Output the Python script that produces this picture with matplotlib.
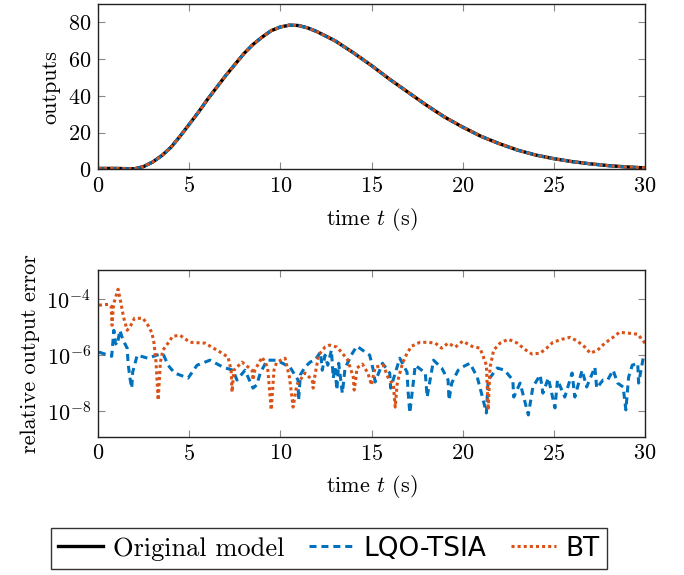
import matplotlib
matplotlib.use("Agg")
import matplotlib.pyplot as plt
import numpy as np

plt.rcParams["font.family"] = "serif"
plt.rcParams["font.serif"] = ["cmr10", "DejaVu Serif"]
plt.rcParams["mathtext.fontset"] = "cm"
plt.rcParams["axes.formatter.use_mathtext"] = True

BLUE = "#0072BD"
ORANGE = "#D95319"

# output of the original model
t_out = [0, 1, 2, 2.5, 3, 3.5, 4, 4.5, 5, 5.5, 6, 6.5, 7, 7.5, 8, 8.5, 9, 9.5,
         10, 10.5, 11, 11.5, 12, 13, 14, 15, 16, 17, 18, 19, 20, 21, 22, 23,
         24, 25, 26, 27, 28, 29, 30]
y_orig = [0.5, 0.5, 0.3, 1.5, 4, 7.5, 12, 18, 24.5, 31, 38, 44.5, 51, 57, 63,
          68, 72, 75.5, 77.5, 78.5, 78.3, 77, 75, 70, 63.5, 56.5, 49, 42, 35,
          28.5, 23, 18, 14, 10.5, 7.8, 5.8, 4.2, 3, 2, 1.3, 0.8]
y_lqo = y_orig   # indistinguishable from the original at this scale
y_bt = y_orig

# relative output errors, stored as log10 values
t_err_lqo = [0.05, 0.55, 0.75, 0.87, 0.95, 1.05, 1.2, 1.37, 1.6, 1.65, 1.75, 1.85,
             1.9, 2.15, 2.74, 3.4, 3.6, 3.84, 4.2, 4.94, 5.43, 6.14, 6.86, 7.4,
             7.62, 8.06, 8.5, 8.7, 8.9, 9.27, 9.8, 10.53, 10.97, 11.0, 11.1,
             11.35, 11.63, 11.9, 12.2, 12.3, 12.45, 12.6, 12.8, 12.9, 13.0, 13.1,
             13.2, 13.4, 13.55, 13.95, 14.2, 14.9, 15.1, 15.2, 15.6, 16.0, 16.05,
             16.55, 16.95, 17.0, 17.1, 17.4, 17.95, 18.05, 18.4, 18.85, 19.2,
             19.25, 19.4, 19.75, 19.97, 20.4, 20.8, 21.1, 21.3, 21.4, 21.9, 22.3,
             22.75, 22.8, 23.15, 23.6, 23.85, 24.25, 24.4, 24.7, 25.06, 25.2,
             25.6, 26.0, 26.15, 26.55, 26.8, 27.25, 27.35, 27.7, 27.95, 28.25,
             28.5, 28.8, 28.95, 29.1, 29.3, 29.6, 29.65, 29.9]
log_err_lqo = [-5.89, -6.0, -6.04, -5.11, -5.57, -5.64, -5.11, -5.46, -5.75, -6.29,
               -6.82, -7.18, -6.61, -6.0, -6.11, -5.96, -6.0, -6.36, -6.64, -6.82,
               -6.36, -6.18, -6.43, -6.54, -6.89, -6.54, -7.18, -7.07, -6.64,
               -6.18, -6.18, -6.43, -6.89, -7.61, -6.7, -6.43, -6.25, -6.18,
               -5.89, -6.54, -6.0, -6.36, -5.82, -6.82, -6.43, -7.25, -6.29,
               -7.36, -6.46, -5.93, -5.68, -6.0, -6.54, -6.96, -6.29, -6.64,
               -7.18, -6.11, -6.61, -7.25, -8.07, -6.36, -6.64, -7.5, -6.18,
               -6.46, -6.89, -7.61, -7.0, -6.54, -6.43, -6.29, -6.79, -7.54,
               -8.07, -6.89, -6.46, -6.54, -6.89, -7.5, -7.0, -8.14, -7.14,
               -6.71, -7.36, -6.82, -7.89, -6.89, -7.5, -6.64, -7.5, -6.54,
               -7.14, -6.43, -7.18, -6.89, -6.89, -6.54, -7.0, -7.14, -7.96,
               -6.79, -6.36, -6.29, -7.0, -6.11]

t_err_bt = [0.05, 0.6, 0.72, 0.77, 0.85, 1.1, 1.25, 1.4, 1.6, 1.8, 2.0, 2.47, 2.74,
            2.96, 3.07, 3.18, 3.3, 3.42, 3.56, 3.84, 4.1, 4.5, 5.05, 5.87, 6.7,
            7.13, 7.3, 7.35, 7.45, 7.9, 8.45, 8.5, 8.6, 9.0, 9.3, 9.5, 9.65, 9.8,
            10.26, 10.5, 10.7, 10.9, 11.35, 11.75, 11.8, 11.9, 12.1, 12.45, 12.7,
            13.1, 13.4, 13.7, 14.0, 14.05, 14.15, 14.2, 14.5, 14.8, 15.0, 15.2,
            15.65, 15.9, 16.2, 16.3, 16.4, 16.45, 16.7, 16.95, 17.2, 17.65, 18.1,
            18.5, 18.85, 19.2, 19.6, 20.0, 20.5, 20.95, 21.1, 21.3, 21.4, 21.5,
            21.7, 22.05, 22.5, 23.0, 23.4, 23.8, 24.25, 24.6, 24.95, 25.45, 25.9,
            26.3, 26.7, 27.0, 27.4, 27.8, 28.25, 28.6, 29.05, 29.6, 30.0]
log_err_bt = [-4.21, -4.18, -4.25, -4.93, -4.18, -3.64, -4.11, -4.64, -5.11, -4.93,
              -4.68, -4.68, -4.93, -5.21, -5.57, -6.25, -7.61, -6.25, -5.82,
              -5.57, -5.32, -5.29, -5.54, -5.57, -5.89, -6.07, -6.54, -7.32,
              -6.54, -6.25, -6.54, -6.89, -6.54, -6.07, -6.43, -7.96, -6.54,
              -6.25, -6.11, -6.79, -7.86, -7.07, -6.64, -6.89, -7.18, -6.71,
              -6.0, -5.71, -5.64, -5.71, -5.93, -6.18, -6.79, -7.25, -6.79,
              -6.46, -6.32, -6.64, -7.07, -6.43, -6.36, -6.79, -7.07, -7.86,
              -7.07, -6.89, -6.29, -5.93, -5.68, -5.54, -5.54, -5.57, -5.75,
              -5.57, -5.71, -5.5, -5.68, -5.75, -6.0, -6.36, -7.96, -6.43, -5.82,
              -5.57, -5.43, -5.57, -5.79, -5.96, -5.93, -5.75, -5.54, -5.43,
              -5.36, -5.5, -5.71, -5.93, -5.82, -5.57, -5.36, -5.18, -5.21,
              -5.25, -5.57]

FS = 16


def style_axes(ax):
    ax.tick_params(direction="in", top=True, right=True, length=5,
                   color="#888888", labelsize=FS, pad=5)
    for s in ax.spines.values():
        s.set_linewidth(1.0)
        s.set_color("#222222")
    ax.set_xlim(0, 30)
    ax.set_xticks([0, 5, 10, 15, 20, 25, 30])
    ax.set_xlabel("time $t$ (s)", fontsize=FS, labelpad=7)


def main():
    fig = plt.figure(figsize=(6.84, 5.75), dpi=100)

    ax1 = fig.add_axes([0.1433, 0.7055, 0.7997, 0.2875])
    l1, = ax1.plot(t_out, y_orig, color="black", lw=2.4, label="Original model")
    l2, = ax1.plot(t_out, y_lqo, color=BLUE, lw=2.2, dashes=(2.3, 1.6),
                   dash_capstyle="butt", label="LQO-TSIA")
    l3, = ax1.plot(t_out, y_bt, color=ORANGE, lw=2.2, dashes=(1, 1),
                   dash_capstyle="butt", label="BT")
    ax1.set_ylim(0, 90)
    ax1.set_yticks([0, 20, 40, 60, 80])
    ax1.set_ylabel("outputs", fontsize=FS, labelpad=5)
    style_axes(ax1)

    ax2 = fig.add_axes([0.1433, 0.2405, 0.7997, 0.2895])
    ax2.plot(t_err_lqo, 10.0 ** np.array(log_err_lqo), color=BLUE, lw=2.2,
             dashes=(2.3, 1.6), dash_capstyle="butt")
    ax2.plot(t_err_bt, 10.0 ** np.array(log_err_bt), color=ORANGE, lw=2.2,
             dashes=(1, 1), dash_capstyle="butt")
    ax2.set_yscale("log")
    ax2.set_ylim(10 ** -8.92, 10 ** -2.96)
    ax2.set_yticks([1e-8, 1e-6, 1e-4])
    ax2.yaxis.set_minor_locator(matplotlib.ticker.NullLocator())
    ax2.set_ylabel("relative output error", fontsize=FS, labelpad=5)
    style_axes(ax2)

    leg = fig.legend(handles=[l1, l2, l3], loc="center", ncol=3,
                     bbox_to_anchor=(0.481, 0.046), fontsize=19, frameon=True,
                     fancybox=False, edgecolor="black", handlelength=1.7,
                     columnspacing=0.95, handletextpad=0.35, borderpad=0.3,
                     borderaxespad=0)
    leg.get_frame().set_linewidth(1.0)
    texts = leg.get_texts()
    texts[1].set_family("DejaVu Sans")
    texts[2].set_family("DejaVu Sans")

    fig.savefig("out.png", dpi=100)


if __name__ == "__main__":
    main()
